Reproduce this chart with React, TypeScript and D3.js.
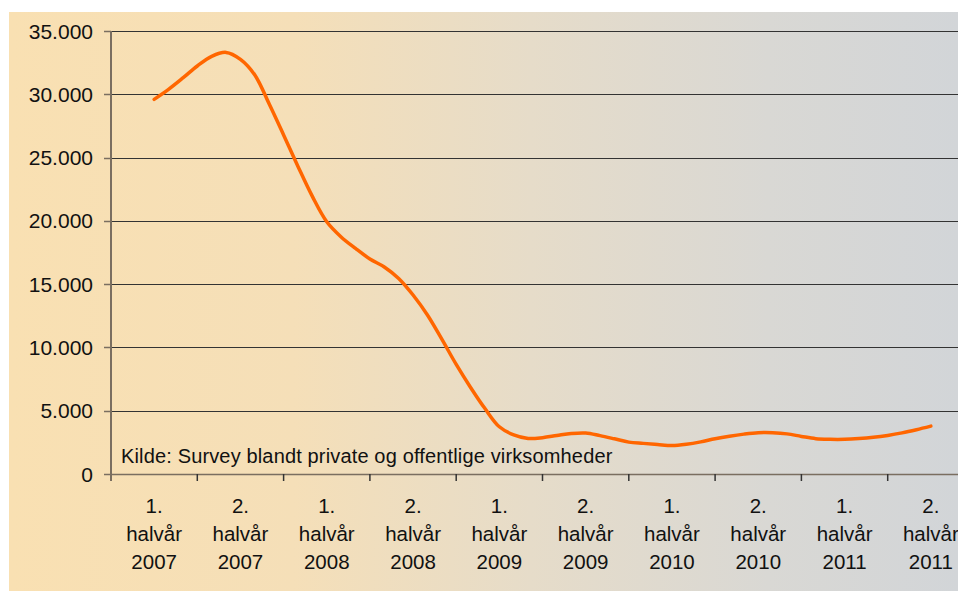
import React from "react";
import * as d3 from "d3";

const categories: string[][] = [
  ["1.", "halvår", "2007"],
  ["2.", "halvår", "2007"],
  ["1.", "halvår", "2008"],
  ["2.", "halvår", "2008"],
  ["1.", "halvår", "2009"],
  ["2.", "halvår", "2009"],
  ["1.", "halvår", "2010"],
  ["2.", "halvår", "2010"],
  ["1.", "halvår", "2011"],
  ["2.", "halvår", "2011"],
];

// monthly readings, month 0 = centre of 1. halvår 2007, month 54 = centre of 2. halvår 2011
const values: number[] = [
  29600, 30390, 31290, 32235, 33000, 33310, 32760, 31520, 29230, 26790,
  24300, 21930, 19930, 18730, 17820, 16990, 16360, 15450, 14140, 12560,
  10650, 8660, 6840, 5170, 3730, 3090, 2810, 2870, 3040, 3200,
  3240, 3030, 2780, 2520, 2420, 2330, 2250, 2350, 2540, 2790,
  2990, 3150, 3260, 3260, 3170, 2970, 2790, 2740, 2740, 2800,
  2900, 3050, 3250, 3500, 3780,
];

const yTicks: number[] = [0, 5000, 10000, 15000, 20000, 25000, 30000, 35000];
const sourceNote = "Kilde: Survey blandt private og offentlige virksomheder";

const W = 958;
const H = 592;
const plotLeft = 111;
const plotRight = 974;
const plotTop = 31;
const plotBottom = 474;

export default function App() {
  const x = d3
    .scaleBand<number>()
    .domain(categories.map((_, i) => i))
    .range([plotLeft, plotRight]);
  const bw = x.bandwidth();
  const xm = d3
    .scaleLinear()
    .domain([-3, 57])
    .range([plotLeft, plotRight]);
  const y = d3.scaleLinear().domain([0, 35000]).range([plotBottom, plotTop]);
  const fmt = (v: number) => d3.format(",")(v).replace(/,/g, ".");
  const line = d3
    .line<number>()
    .x((_, i) => xm(i))
    .y((d) => y(d))
    .curve(d3.curveCatmullRom.alpha(0.5));
  const font = "'Liberation Sans', Arial, sans-serif";
  const axisColor = "#7a6e60";

  return (
    <svg
      width={W}
      height={H}
      style={{ position: "absolute", left: 0, top: 0, fontFamily: font }}
    >
      <defs>
        <linearGradient id="bg" x1="0" x2="1" y1="0" y2="0">
          <stop offset="0" stopColor="#F9E0B2" />
          <stop offset="0.3" stopColor="#F5DFB8" />
          <stop offset="0.55" stopColor="#E6DCC9" />
          <stop offset="0.8" stopColor="#D9D8D4" />
          <stop offset="1" stopColor="#D2D5D8" />
        </linearGradient>
        <clipPath id="clip">
          <rect x={0} y={0} width={W} height={H} />
        </clipPath>
      </defs>
      <rect x={9} y={12} width={W - 9} height={579} fill="url(#bg)" />
      <g clipPath="url(#clip)">
        {yTicks.slice(1).map((t) => (
          <line
            key={t}
            x1={plotLeft}
            x2={plotRight}
            y1={Math.round(y(t)) + 0.5}
            y2={Math.round(y(t)) + 0.5}
            stroke="#333"
            strokeWidth={1}
          />
        ))}
        {yTicks.map((t) => (
          <g key={"yt" + t}>
            <line
              x1={plotLeft - 7}
              x2={plotLeft}
              y1={Math.round(y(t)) + 0.5}
              y2={Math.round(y(t)) + 0.5}
              stroke={axisColor}
              strokeWidth={1.5}
            />
            <text
              x={93}
              y={y(t) + 7.5}
              textAnchor="end"
              fontSize={21}
              fill="#111"
            >
              {fmt(t)}
            </text>
          </g>
        ))}
        <line
          x1={plotLeft}
          x2={plotLeft}
          y1={plotTop}
          y2={plotBottom}
          stroke={axisColor}
          strokeWidth={2}
        />
        <line
          x1={plotLeft}
          x2={plotRight}
          y1={plotBottom + 0.5}
          y2={plotBottom + 0.5}
          stroke={axisColor}
          strokeWidth={1.5}
        />
        {categories.map((_, i) => (
          <line
            key={"xt" + i}
            x1={(x(i) as number) + bw}
            x2={(x(i) as number) + bw}
            y1={plotBottom}
            y2={plotBottom + 7}
            stroke="#333"
            strokeWidth={1.5}
          />
        ))}
        <line
          x1={plotLeft}
          x2={plotLeft}
          y1={plotBottom}
          y2={plotBottom + 7}
          stroke={axisColor}
          strokeWidth={2}
        />
        {categories.map((lines, i) => (
          <text
            key={"xl" + i}
            x={(x(i) as number) + bw / 2}
            textAnchor="middle"
            fontSize={20.5}
            fill="#111"
          >
            {lines.map((l, j) => (
              <tspan key={j} x={(x(i) as number) + bw / 2} y={513 + j * 28}>
                {l}
              </tspan>
            ))}
          </text>
        ))}
        <text x={121} y={463} fontSize={20} letterSpacing={0.15} fill="#111">
          {sourceNote}
        </text>
        <path
          d={line(values) || ""}
          fill="none"
          stroke="#FF6600"
          strokeWidth={3.5}
          strokeLinejoin="round"
          strokeLinecap="round"
        />
      </g>
    </svg>
  );
}
